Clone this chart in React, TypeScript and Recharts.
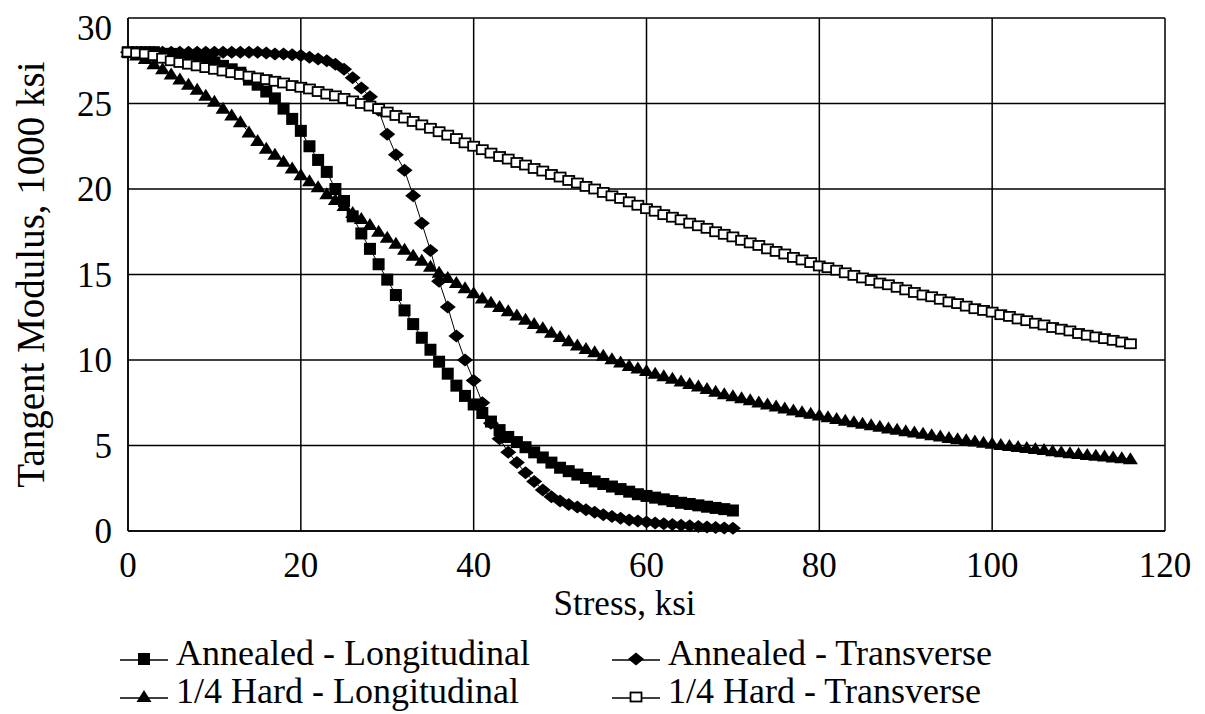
import React from 'react';
import { LineChart, Line, XAxis, YAxis, CartesianGrid } from 'recharts';

// Stress steps (ksi) for each material condition
const stressAnnealed = [
  0, 1, 2, 3, 4, 5, 6, 7, 8, 9, 10, 11, 12, 13, 14, 15, 16, 17, 18, 19,
  20, 21, 22, 23, 24, 25, 26, 27, 28, 29, 30, 31, 32, 33, 34, 35, 36, 37, 38, 39,
  40, 41, 42, 43, 44, 45, 46, 47, 48, 49, 50, 51, 52, 53, 54, 55, 56, 57, 58, 59,
  60, 61, 62, 63, 64, 65, 66, 67, 68, 69, 70,
];
const stressHard = [
  0, 1, 2, 3, 4, 5, 6, 7, 8, 9, 10, 11, 12, 13, 14, 15, 16, 17, 18, 19,
  20, 21, 22, 23, 24, 25, 26, 27, 28, 29, 30, 31, 32, 33, 34, 35, 36, 37, 38, 39,
  40, 41, 42, 43, 44, 45, 46, 47, 48, 49, 50, 51, 52, 53, 54, 55, 56, 57, 58, 59,
  60, 61, 62, 63, 64, 65, 66, 67, 68, 69, 70, 71, 72, 73, 74, 75, 76, 77, 78, 79,
  80, 81, 82, 83, 84, 85, 86, 87, 88, 89, 90, 91, 92, 93, 94, 95, 96, 97, 98, 99,
  100, 101, 102, 103, 104, 105, 106, 107, 108, 109, 110, 111, 112, 113, 114, 115, 116,
];

// Tangent modulus, 1000 ksi
const annealedLong = [
  28.0, 28.0, 28.0, 28.0, 27.9, 27.9, 27.8, 27.7, 27.6, 27.5,
  27.4, 27.2, 27.0, 26.8, 26.4, 26.1, 25.7, 25.3, 24.7, 24.1,
  23.4, 22.5, 21.7, 21.0, 20.0, 19.3, 18.4, 17.4, 16.5, 15.6,
  14.7, 13.8, 12.9, 12.1, 11.3, 10.6, 9.9, 9.2, 8.5, 7.9,
  7.4, 6.9, 6.4, 5.9, 5.5, 5.2, 4.9, 4.6, 4.3, 4.0,
  3.7, 3.5, 3.3, 3.1, 2.9, 2.75, 2.6, 2.45, 2.3, 2.15,
  2.05, 1.95, 1.85, 1.75, 1.65, 1.58, 1.5, 1.42, 1.35, 1.28,
  1.2,
];
const annealedTrans = [
  28.0, 28.0, 28.0, 28.0, 28.0, 28.0, 28.0, 28.0, 28.0, 28.0,
  28.0, 28.0, 28.0, 28.0, 28.0, 28.0, 27.95, 27.9, 27.9, 27.85,
  27.8, 27.7, 27.6, 27.5, 27.3, 27.0, 26.5, 25.9, 25.4, 24.6,
  23.2, 22.0, 21.1, 19.6, 18.0, 16.4, 14.6, 13.1, 11.4, 10.0,
  8.8, 7.5, 6.3, 5.4, 4.6, 4.0, 3.4, 2.9, 2.4, 2.0,
  1.75, 1.55, 1.4, 1.25, 1.1, 0.95, 0.85, 0.75, 0.65, 0.58,
  0.52, 0.47, 0.42, 0.38, 0.34, 0.3, 0.27, 0.24, 0.21, 0.18,
  0.16,
];
const hardLong = [
  28.0, 27.8, 27.6, 27.3, 27.0, 26.7, 26.4, 26.1, 25.8, 25.45,
  25.1, 24.7, 24.3, 23.9, 23.3, 22.8, 22.35, 22.0, 21.6, 21.2,
  20.8, 20.45, 20.1, 19.7, 19.35, 19.0, 18.6, 18.25, 17.9, 17.5,
  17.15, 16.8, 16.45, 16.1, 15.8, 15.45, 15.1, 14.8, 14.5, 14.2,
  13.9, 13.6, 13.35, 13.1, 12.85, 12.6, 12.35, 12.1, 11.85, 11.6,
  11.35, 11.1, 10.85, 10.65, 10.45, 10.25, 10.05, 9.85, 9.65, 9.5,
  9.35, 9.2, 9.05, 8.9, 8.75, 8.6, 8.45, 8.3, 8.15, 8.0,
  7.88, 7.76, 7.64, 7.52, 7.4, 7.28, 7.16, 7.05, 6.95, 6.85,
  6.75, 6.65, 6.55, 6.45, 6.36, 6.27, 6.18, 6.09, 6.0, 5.92,
  5.84, 5.76, 5.68, 5.6, 5.52, 5.44, 5.37, 5.3, 5.23, 5.16,
  5.1, 5.03, 4.97, 4.91, 4.85, 4.79, 4.73, 4.67, 4.61, 4.55,
  4.5, 4.45, 4.4, 4.35, 4.3, 4.25, 4.2,
];
const hardTrans = [
  28.0, 27.95, 27.9, 27.8, 27.65, 27.5, 27.4, 27.3, 27.2, 27.1,
  27.0, 26.9, 26.8, 26.7, 26.6, 26.5, 26.4, 26.3, 26.2, 26.05,
  25.95, 25.85, 25.7, 25.55, 25.45, 25.3, 25.15, 25.0, 24.85, 24.7,
  24.5, 24.3, 24.15, 23.95, 23.75, 23.55, 23.35, 23.15, 22.95, 22.7,
  22.5, 22.3, 22.1, 21.9, 21.75, 21.55, 21.4, 21.2, 21.05, 20.85,
  20.7, 20.5, 20.35, 20.15, 20.0, 19.8, 19.6, 19.45, 19.25, 19.05,
  18.85, 18.7, 18.5, 18.35, 18.2, 18.0, 17.85, 17.7, 17.5, 17.35,
  17.2, 17.0, 16.85, 16.7, 16.5, 16.35, 16.2, 16.0, 15.85, 15.7,
  15.5, 15.4, 15.25, 15.1, 14.95, 14.8, 14.65, 14.5, 14.4, 14.25,
  14.1, 13.95, 13.8, 13.7, 13.55, 13.4, 13.3, 13.15, 13.0, 12.9,
  12.8, 12.65, 12.55, 12.4, 12.3, 12.15, 12.05, 11.9, 11.8, 11.7,
  11.55, 11.45, 11.35, 11.25, 11.15, 11.05, 10.95,
];

const xTicks = [0, 20, 40, 60, 80, 100, 120];
const yTicks = [0, 5, 10, 15, 20, 25, 30];

const seriesNames = [
  'Annealed - Longitudinal',
  'Annealed - Transverse',
  '1/4 Hard - Longitudinal',
  '1/4 Hard - Transverse',
];

const FONT = "'Liberation Serif', 'DejaVu Serif', serif";

const toPoints = (xs: number[], ys: number[]) =>
  ys.map((y, i) => ({ stress: xs[i], modulus: y }));

// marker shapes
const square = (cx: number, cy: number, key?: any) => (
  <rect key={key} x={cx - 6} y={cy - 6} width={12} height={12} fill="#000" />
);
const diamond = (cx: number, cy: number, key?: any) => (
  <polygon
    key={key}
    points={`${cx - 8},${cy} ${cx},${cy - 6.5} ${cx + 8},${cy} ${cx},${cy + 6.5}`}
    fill="#000"
  />
);
const triangle = (cx: number, cy: number, key?: any) => (
  <polygon
    key={key}
    points={`${cx - 7.5},${cy + 5} ${cx + 7.5},${cy + 5} ${cx},${cy - 7}`}
    fill="#000"
  />
);
const openSquare = (cx: number, cy: number, key?: any) => (
  <rect
    key={key}
    x={cx - 5.5}
    y={cy - 4.5}
    width={11}
    height={9}
    fill="#fff"
    stroke="#000"
    strokeWidth={1.8}
  />
);

const markers = [square, diamond, triangle, openSquare];

const dotFor = (shape: typeof square) => (p: any) =>
  shape(p.cx, p.cy, `${p.dataKey}-${p.index}`);

const series = [
  toPoints(stressAnnealed, annealedLong),
  toPoints(stressAnnealed, annealedTrans),
  toPoints(stressHard, hardLong),
  toPoints(stressHard, hardTrans),
];

const YLabel = (props: any) => {
  const { viewBox } = props;
  const x = 22;
  const y = viewBox.y + viewBox.height / 2;
  return (
    <text
      x={x}
      y={y}
      transform={`rotate(-90, ${x}, ${y})`}
      textAnchor="middle"
      dominantBaseline="central"
      fontSize={39}
      style={{ fontFamily: FONT }}
      fill="#000"
    >
      Tangent Modulus, 1000 ksi
    </text>
  );
};

const XLabel = (props: any) => {
  const { viewBox } = props;
  const x = viewBox.x + viewBox.width / 2 - 22;
  const y = viewBox.y + 84;
  return (
    <text x={x} y={y} textAnchor="middle" fontSize={35} style={{ fontFamily: FONT }} fill="#000">
      Stress, ksi
    </text>
  );
};

const LegendItem = ({ index, left, top }: { index: number; left: number; top: number }) => (
  <div style={{ position: 'absolute', left, top, display: 'flex', alignItems: 'center' }}>
    <svg width={52} height={36} style={{ marginRight: 6 }}>
      <line x1={2} y1={25} x2={50} y2={25} stroke="#000" strokeWidth={1.5} />
      {markers[index](26, 24)}
    </svg>
    <span style={{ fontSize: 36, fontFamily: FONT, color: '#000', whiteSpace: 'nowrap' }}>
      {seriesNames[index]}
    </span>
  </div>
);

export default function App() {
  return (
    <div
      style={{
        position: 'relative',
        width: 1190,
        height: 706,
        overflow: 'hidden',
        background: '#fff',
        fontFamily: FONT,
      }}
    >
      <LineChart
        width={1190}
        height={620}
        margin={{ top: 10, right: 33, left: 20, bottom: 0 }}
        style={{ fontFamily: FONT }}
      >
        <CartesianGrid stroke="#000" strokeWidth={1.5} strokeOpacity={1} />
        <XAxis
          type="number"
          dataKey="stress"
          domain={[0, 120]}
          ticks={xTicks}
          allowDuplicatedCategory={false}
          height={97}
          tickLine={false}
          axisLine={{ stroke: '#000', strokeWidth: 1.5 }}
          tickMargin={15}
          tick={{ fill: '#000', fontSize: 35, style: { fontFamily: FONT } }}
          label={<XLabel />}
        />
        <YAxis
          type="number"
          domain={[0, 30]}
          ticks={yTicks}
          width={100}
          tickLine={false}
          axisLine={{ stroke: '#000', strokeWidth: 1.5 }}
          tickMargin={10}
          tick={{ fill: '#000', fontSize: 35, style: { fontFamily: FONT } }}
          label={<YLabel />}
        />
        {series.map((data, i) => (
          <Line
            key={seriesNames[i]}
            data={data}
            dataKey="modulus"
            name={seriesNames[i]}
            type="linear"
            stroke="#000"
            strokeWidth={1}
            dot={dotFor(markers[i])}
            activeDot={false}
            isAnimationActive={false}
          />
        ))}
      </LineChart>
      <LegendItem index={0} left={110} top={624} />
      <LegendItem index={1} left={602} top={624} />
      <LegendItem index={2} left={110} top={662} />
      <LegendItem index={3} left={602} top={662} />
    </div>
  );
}
